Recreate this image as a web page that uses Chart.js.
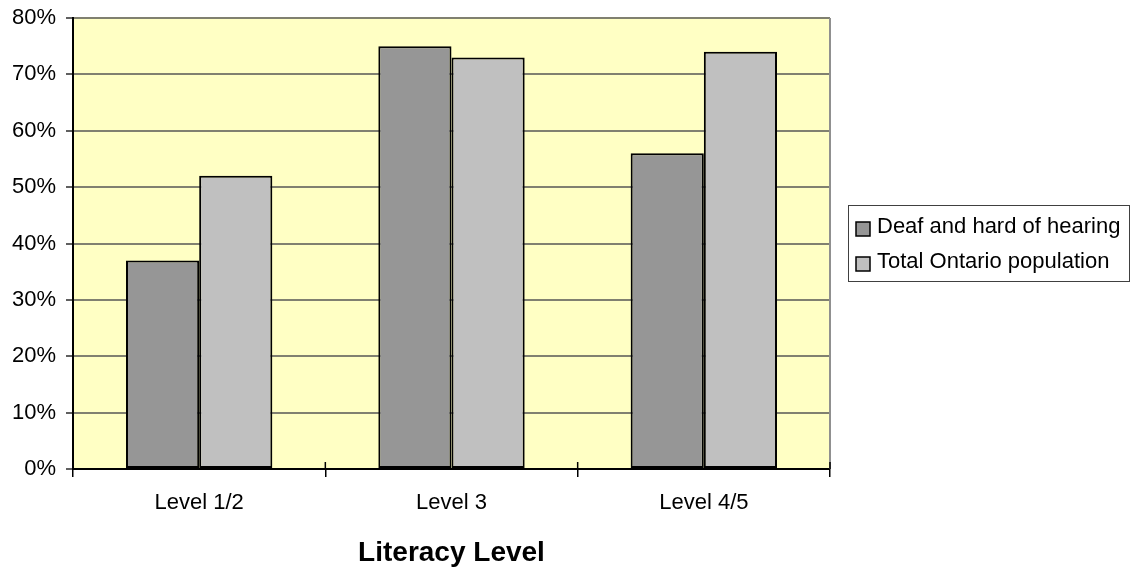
<!DOCTYPE html>
<html>
<head>
<meta charset="utf-8">
<script src="https://cdn.jsdelivr.net/npm/chart.js@4/dist/chart.umd.min.js"></script>
<style>
  html, body { margin: 0; padding: 0; background: #ffffff; }
  #wrap { width: 1135px; height: 572px; position: relative; }
</style>
</head>
<body>
<div id="wrap"><canvas id="c" width="1135" height="572"></canvas></div>
<script>
// Literacy levels compared between two populations (percent)
const categories = ['Level 1/2', 'Level 3', 'Level 4/5'];
const deafHardOfHearing = [37, 75, 56];
const totalOntario = [52, 73, 74];
const seriesNames = ['Deaf and hard of hearing', 'Total Ontario population'];
const yTicks = [0, 10, 20, 30, 40, 50, 60, 70, 80];

const FONT = '"Liberation Sans", Arial, sans-serif';

// Pale yellow plot background with a grey frame on the right
const plotBackground = {
  id: 'plotBackground',
  beforeDraw(chart) {
    const { ctx, chartArea: a } = chart;
    ctx.save();
    ctx.fillStyle = '#FFFFC4';
    ctx.fillRect(a.left, a.top, a.right - a.left, a.bottom - a.top);
    ctx.restore();
  },
  afterDatasetsDraw(chart) {
    const { ctx, chartArea: a } = chart;
    ctx.save();
    ctx.strokeStyle = '#909090';
    ctx.lineWidth = 2;
    ctx.beginPath();
    ctx.moveTo(a.right, a.top);
    ctx.lineTo(a.right, a.bottom);
    ctx.stroke();
    // small category tick marks rising into the plot from the baseline
    const xs = chart.scales.x;
    ctx.strokeStyle = '#000';
    ctx.lineWidth = 1.5;
    for (let i = 0; i <= categories.length; i++) {
      const x = xs.left + (xs.right - xs.left) * i / categories.length;
      ctx.beginPath();
      ctx.moveTo(x, a.bottom - 7);
      ctx.lineTo(x, a.bottom);
      ctx.stroke();
    }
    ctx.restore();
  }
};

// Boxed legend to the right of the plot
const boxLegend = {
  id: 'boxLegend',
  afterDraw(chart) {
    const { ctx } = chart;
    const x0 = 848, y0 = 205, w = 281, h = 76;
    ctx.save();
    ctx.fillStyle = '#fff';
    ctx.fillRect(x0, y0, w, h);
    ctx.strokeStyle = '#404040';
    ctx.lineWidth = 1;
    ctx.strokeRect(x0 + 0.5, y0 + 0.5, w, h);
    ctx.font = '22px ' + FONT;
    ctx.textBaseline = 'middle';
    chart.data.datasets.forEach((ds, i) => {
      const cy = y0 + 22 + i * 35;
      ctx.fillStyle = ds.backgroundColor;
      ctx.fillRect(x0 + 8, cy - 5, 14, 14);
      ctx.strokeStyle = '#000';
      ctx.lineWidth = 1.5;
      ctx.strokeRect(x0 + 8, cy - 5, 14, 14);
      ctx.fillStyle = '#000';
      ctx.fillText(ds.label, x0 + 29, cy);
    });
    ctx.restore();
  }
};

new Chart(document.getElementById('c'), {
  type: 'bar',
  data: {
    labels: categories,
    datasets: [
      {
        label: seriesNames[0],
        data: deafHardOfHearing,
        backgroundColor: '#969696',
        borderColor: '#000',
        borderWidth: 2,
        borderSkipped: false
      },
      {
        label: seriesNames[1],
        data: totalOntario,
        backgroundColor: '#C0C0C0',
        borderColor: '#000',
        borderWidth: 2,
        borderSkipped: false
      }
    ]
  },
  options: {
    responsive: false,
    animation: false,
    devicePixelRatio: 1,
    layout: { padding: { top: 18, right: 305, left: 0, bottom: 0 } },
    datasets: { bar: { categoryPercentage: 0.58, barPercentage: 1.0 } },
    plugins: {
      legend: { display: false },
      tooltip: { enabled: false }
    },
    scales: {
      x: {
        offset: true,
        grid: {
          display: true,
          offset: true,
          drawOnChartArea: false,
          drawTicks: true,
          tickLength: 8,
          color: '#000',
          lineWidth: 1.5
        },
        border: { display: true, color: '#000', width: 2 },
        ticks: {
          color: '#000',
          font: { family: FONT, size: 22 },
          padding: 13,
          maxRotation: 0
        },
        title: {
          display: true,
          text: 'Literacy Level',
          color: '#000',
          font: { family: FONT, size: 28, weight: 'bold' },
          padding: { top: 14, bottom: 2 }
        },
        afterFit(s) { s.height = 103; s.paddingLeft = 0; s.paddingRight = 0; }
      },
      y: {
        min: 0,
        max: 80,
        afterBuildTicks(s) { s.ticks = yTicks.map(v => ({ value: v })); },
        grid: {
          color: '#808070',
          lineWidth: 2,
          drawTicks: true,
          tickLength: 7,
          tickColor: '#606060'
        },
        border: { display: true, color: '#000', width: 2 },
        ticks: {
          color: '#000',
          font: { family: FONT, size: 22 },
          padding: 10,
          callback: v => v + '%'
        },
        afterFit(s) { s.width = 73; s.paddingTop = 0; s.paddingBottom = 0; }
      }
    }
  },
  plugins: [plotBackground, boxLegend]
});
</script>
</body>
</html>
